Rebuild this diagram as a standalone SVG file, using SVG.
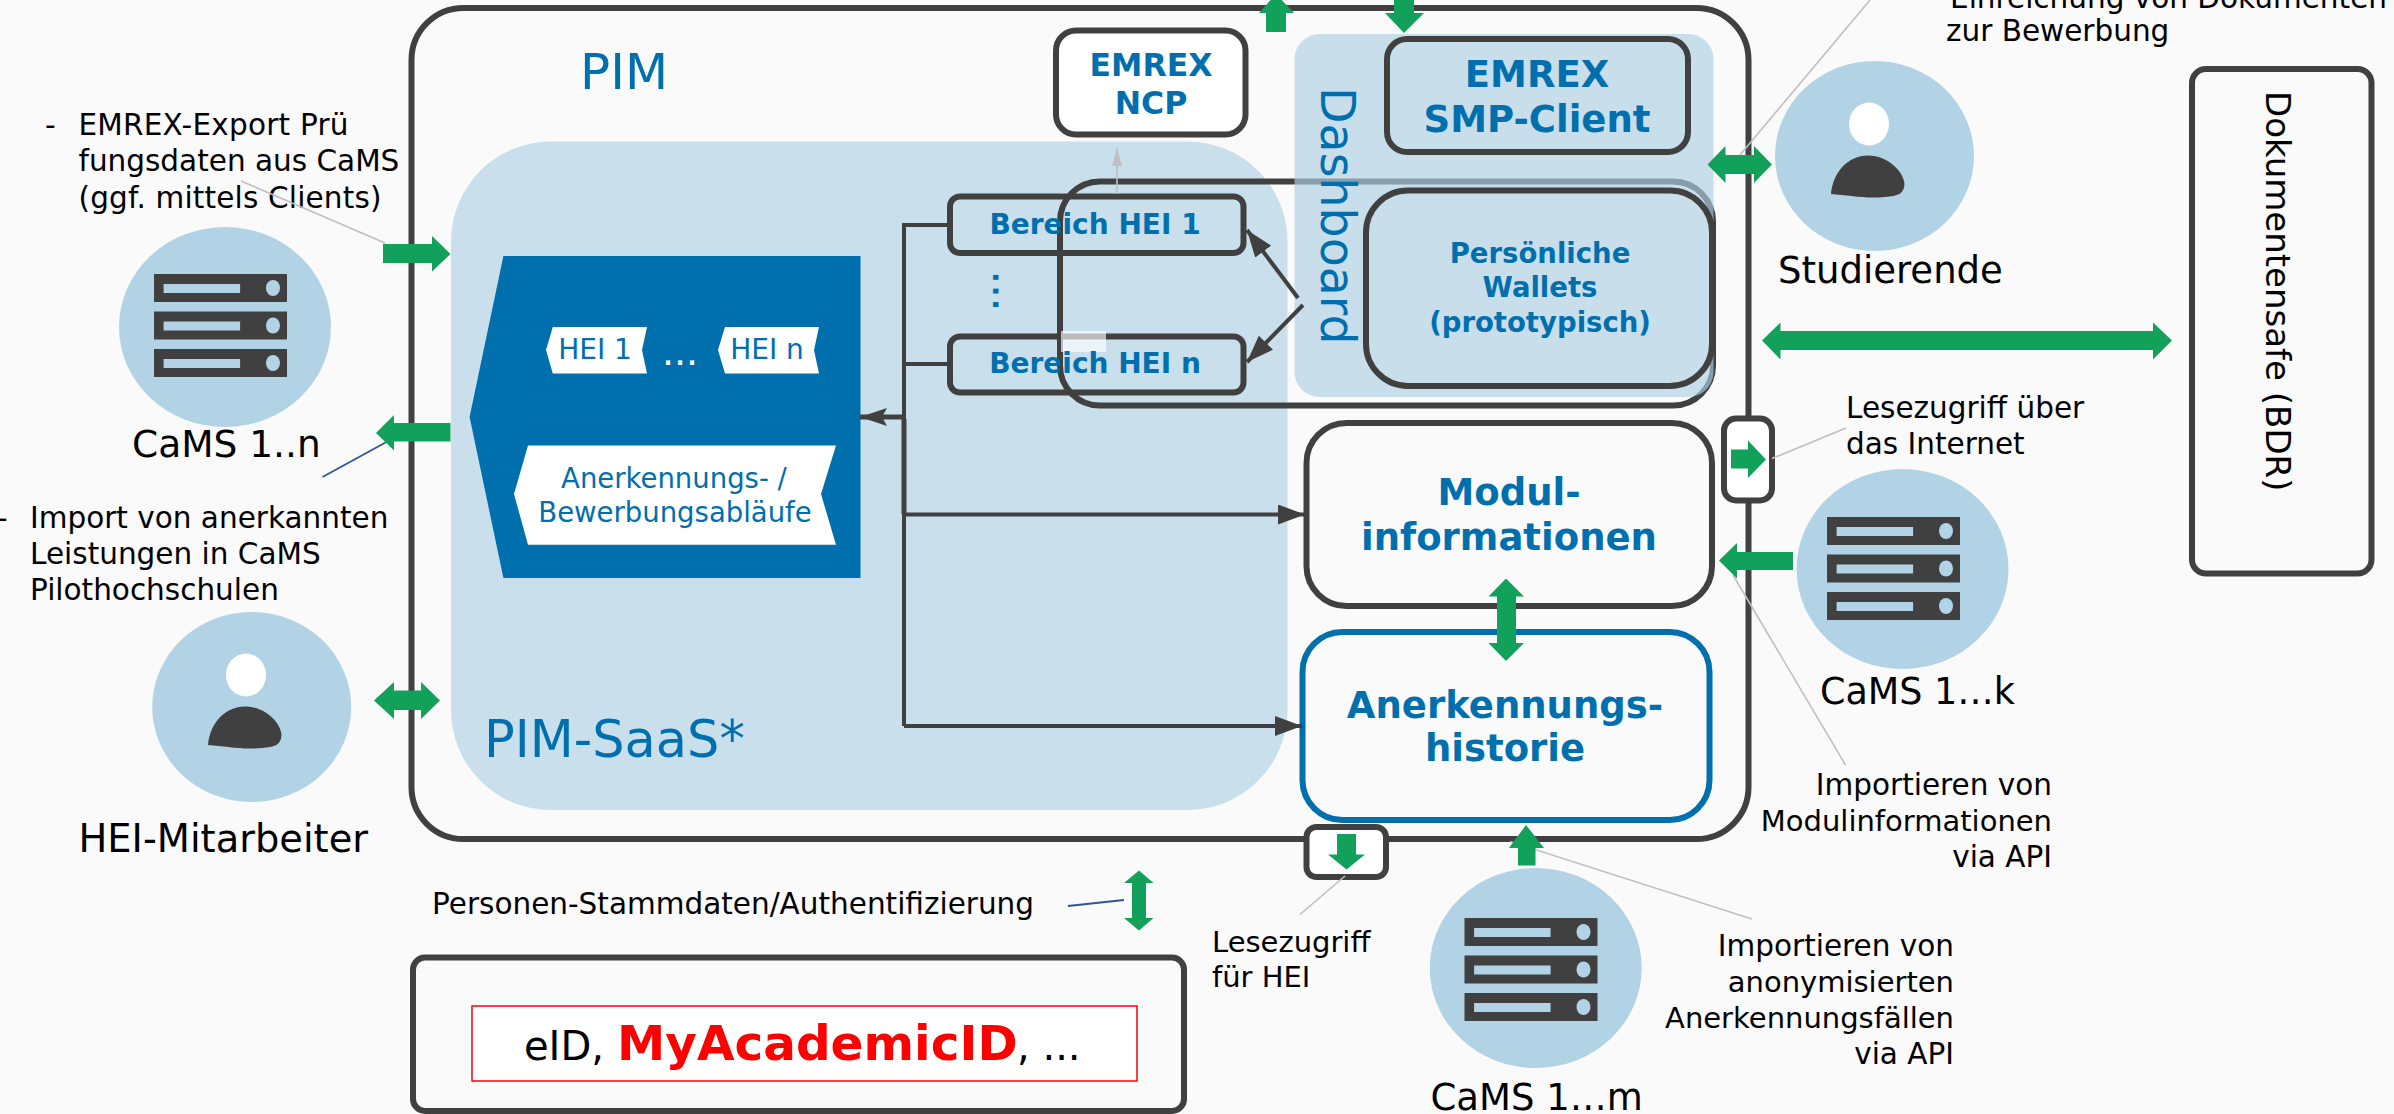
<svg xmlns="http://www.w3.org/2000/svg" xmlns:xlink="http://www.w3.org/1999/xlink" width="2394" height="1114" viewBox="0 0 2394 1114">
<style>
text{font-family:"DejaVu Sans","Liberation Sans",sans-serif;fill:#000}
.b{fill:#006fae}
.bb{fill:#006fae;font-weight:bold}
.m{text-anchor:middle}
.e{text-anchor:end}
.t29{font-size:29.500px}
.t28{font-size:29px}
.t37{font-size:37px}
.c37{font-size:37.500px}
.box{fill:none;stroke:#404040;stroke-width:6}
.wbox{fill:#fff;stroke:#404040;stroke-width:6}
.circ{fill:#b2d3e6}
.pale{fill:#c9dfec}
.g{fill:#12a15b}
.ln{fill:none;stroke:#404040;stroke-width:4}
.gr{fill:none;stroke:#bfbfbf;stroke-width:1.6}
.bl{fill:none;stroke:#2f5597;stroke-width:1.8}
</style>
<defs>
<marker id="ah" markerUnits="userSpaceOnUse" markerWidth="27" markerHeight="20" refX="27" refY="10" orient="auto"><path d="M0 0L27 10L0 20Z" fill="#404040"/></marker>
<marker id="as" markerUnits="userSpaceOnUse" markerWidth="27" markerHeight="20" refX="27" refY="10" orient="auto"><path d="M0 1L27 10L0 19L5 10Z" fill="#404040"/></marker>
<marker id="agr" markerUnits="userSpaceOnUse" markerWidth="18" markerHeight="10" refX="18" refY="5" orient="auto"><path d="M0 0L18 5L0 10Z" fill="#bfbfbf"/></marker>
<g id="srv"><rect width="133" height="28" fill="#404040"/><rect x="9.6" y="10" width="76.5" height="9" class="circ"/><ellipse cx="119" cy="14" rx="7" ry="8" class="circ"/></g>
<g id="server"><use xlink:href="#srv" href="#srv"/><use xlink:href="#srv" href="#srv" y="37.5"/><use xlink:href="#srv" href="#srv" y="75"/></g>
<g id="person"><ellipse cx="0" cy="0" rx="20" ry="21.5" fill="#fff"/><path d="M-38 70C-36 48-21 31.5-1 31.5C19 31.5 35 48 35.5 60C35 70 29 72 16 73C-4 75-21 71-38 70Z" fill="#404040"/></g>
</defs>
<rect width="2394" height="1114" fill="#fafafa"/>

<g id="pim"><rect x="411.5" y="8" width="1337" height="831" rx="52" class="box"/><text x="580" y="89" class="b" font-size="50">PIM</text></g>
<g id="pim-saas"><rect x="451" y="141.5" width="836.500" height="668.500" rx="100" class="pale"/><text x="484" y="757" class="b" font-size="51">PIM-SaaS*</text></g>
<g id="range-frame"><rect x="1060" y="181.500" width="653" height="224" rx="40" class="box"/></g>
<g id="dashboard"><rect x="1294.500" y="34" width="419" height="363" rx="25" fill="#aed0e3" fill-opacity=".65"/><text transform="translate(1321 87) rotate(90)" class="b" font-size="47.500">Dashboard</text></g>
<g id="emrex-ncp"><rect x="1056" y="30.500" width="189.500" height="104" rx="20" class="wbox"/><text x="1151" y="76" class="bb m" font-size="31.500">EMREX</text><text x="1151" y="114" class="bb m" font-size="31.500">NCP</text></g>
<g id="emrex-smp"><rect x="1387" y="39" width="301" height="113" rx="20" class="box"/><text x="1537" y="87" class="bb m" font-size="37">EMREX</text><text x="1537" y="132" class="bb m" font-size="37">SMP-Client</text></g>
<g id="wallets"><rect x="1366" y="190.500" width="346" height="195.500" rx="42" class="box"/><g class="bb m" font-size="27.500"><text x="1540" y="263" class="bb m">Persönliche</text><text x="1540" y="297" class="bb m">Wallets</text><text x="1540" y="332" class="bb m">(prototypisch)</text></g></g>
<g id="bereich-1"><rect x="950" y="196.500" width="293.500" height="56.500" rx="10" class="box"/><text x="1095" y="234" class="bb m" font-size="28">Bereich HEI 1</text></g>
<g id="bereich-n"><rect x="950" y="336.500" width="293.500" height="56" rx="10" class="box"/><rect x="1061" y="331" width="45" height="21" fill="#fff" fill-opacity=".65"/><text x="1095" y="373" class="bb m" font-size="28">Bereich HEI n</text></g>
<g id="bereich-dots"><text transform="translate(993 272) rotate(90)" class="bb" font-size="28" letter-spacing="3">...</text></g>

<g id="workflow">
<polygon points="503.400,256 860.500,256 860.500,578 503.400,578 469.600,417" fill="#006fae"/>
<polygon points="552.800,327 647,327 642,350 647,373.500 552.800,373.500 546,350" fill="#fff"/>
<text x="595" y="359" class="b m" font-size="28">HEI 1</text>
<text x="680" y="365" class="m" font-size="38" style="fill:#fff">...</text>
<polygon points="725,327 819,327 814,350 819,373.500 725,373.500 718,350" fill="#fff"/>
<text x="767" y="359" class="b m" font-size="28">HEI n</text>
<polygon points="528,445.500 836,445.500 821,494 836,544.700 528,544.700 514,494" fill="#fff"/>
<text x="674" y="488" class="b m" font-size="27.500">Anerkennungs- /</text>
<text x="675" y="522" class="b m" font-size="27.500">Bewerbungsabläufe</text>
</g>

<g id="modul"><rect x="1306.500" y="423" width="405.500" height="183" rx="40" class="box"/><text x="1509" y="505" class="bb m t37">Modul-</text><text x="1509" y="550" class="bb m t37">informationen</text></g>
<g id="historie"><rect x="1302.500" y="632" width="407" height="188" rx="40" fill="none" stroke="#006fae" stroke-width="6"/><text x="1505" y="718" class="bb m t37">Anerkennungs-</text><text x="1505" y="761" class="bb m t37">historie</text></g>
<g id="read-internet"><rect x="1724" y="418.500" width="48" height="82" rx="12" class="wbox"/></g>
<g id="read-hei"><rect x="1306.500" y="827" width="79.500" height="50" rx="10" class="wbox"/></g>

<g id="dokumentensafe"><rect x="2192" y="69" width="179.500" height="504.500" rx="14" class="box"/><text transform="translate(2266 91) rotate(90)" font-size="34">Dokumentensafe (BDR)</text></g>
<g id="identity"><rect x="413" y="957.500" width="771" height="153.500" rx="12" class="box"/><rect x="472" y="1006" width="665" height="75" fill="#fff" stroke="#f00" stroke-width="1.500"/><text y="1060" font-size="40"><tspan x="524">eID,</tspan><tspan x="617" font-size="48.500" font-weight="bold" style="fill:#f00">MyAcademicID</tspan><tspan x="1017">, ...</tspan></text></g>

<g id="cams-n"><ellipse cx="225" cy="327" rx="106" ry="100" class="circ"/><use xlink:href="#server" href="#server" x="154" y="274"/><text x="132" y="457" class="c37">CaMS 1..n</text></g>
<g id="cams-k"><ellipse cx="1902.500" cy="569" rx="106" ry="100" class="circ"/><use xlink:href="#server" href="#server" x="1827" y="517"/><text x="1820" y="703.500" style="font-size:36.500px">CaMS 1…k</text></g>
<g id="cams-m"><ellipse cx="1535.700" cy="968" rx="106" ry="100" class="circ"/><use xlink:href="#server" href="#server" x="1464.500" y="918"/><text x="1430.500" y="1110" class="t37">CaMS 1…m</text></g>
<g id="studierende"><ellipse cx="1874.500" cy="156" rx="99.500" ry="95" class="circ"/><use xlink:href="#person" href="#person" x="1869" y="124"/><text x="1778" y="283" font-size="37">Studierende</text></g>
<g id="hei-mitarbeiter"><ellipse cx="251.700" cy="707" rx="99.500" ry="95" class="circ"/><use xlink:href="#person" href="#person" x="246" y="675"/><text x="78.500" y="852" font-size="38.400">HEI-Mitarbeiter</text></g>

<g id="labels">
<text x="45" y="135" class="t29">-</text><text x="78.500" y="135" class="t29" textLength="270">EMREX-Export Prü</text><text x="78.500" y="171" class="t29">fungsdaten aus CaMS</text><text x="78.500" y="207.500" class="t29" textLength="303">(ggf. mittels Clients)</text>
<text x="-3" y="528" class="t29">-</text><text x="30" y="528" class="t29">Import von anerkannten</text><text x="30" y="564" class="t29">Leistungen in CaMS</text><text x="30" y="600" class="t29">Pilothochschulen</text>
<text x="1950" y="8" class="t29">Einreichung von Dokumenten</text><text x="1946" y="41" class="t29">zur Bewerbung</text>
<text x="1846" y="418" class="t29">Lesezugriff über</text><text x="1846" y="454" class="t29">das Internet</text>
<text x="2052" y="795" class="t29 e">Importieren von</text><text x="2052" y="831" class="t28 e">Modulinformationen</text><text x="2052" y="867" class="t29 e">via API</text>
<text x="1954" y="956" class="t29 e">Importieren von</text><text x="1954" y="992" class="t28 e">anonymisierten</text><text x="1954" y="1028" class="t28 e">Anerkennungsfällen</text><text x="1954" y="1064" class="t29 e">via API</text>
<text x="1212" y="952" class="t28">Lesezugriff</text><text x="1212" y="987" class="t28">für HEI</text>
<text x="432" y="914" class="t29">Personen-Stammdaten/Authentifizierung</text>
</g>

<g id="connectors">
<path class="ln" d="M950 225H904V419"/>
<path class="ln" d="M904 364H950"/>
<path class="ln" d="M904 514V726" />
<path class="ln" style="stroke-width:5" d="M904 419V514"/>
<path class="ln" style="stroke-width:5" d="M904 417H860" marker-end="url(#as)"/>
<path class="ln" d="M904 514.500H1305" marker-end="url(#ah)"/>
<path class="ln" d="M904 726H1302" marker-end="url(#ah)"/>
<path class="ln" d="M1298 298L1247 230" marker-end="url(#ah)"/>
<path class="ln" d="M1303 305L1247 362" marker-end="url(#ah)"/>
<path class="gr" d="M1117 194V148" marker-end="url(#agr)"/>
<path class="gr" d="M241 181L385 243"/>
<path class="gr" d="M1740 155L1870 0"/>
<path class="gr" d="M1772 458.500L1846 428"/>
<path class="gr" d="M1733 575L1845.500 765"/>
<path class="gr" d="M1345 876L1300 914.500"/>
<path class="gr" d="M1510 841.500L1752 919"/>
<path class="bl" d="M322.500 477L406.500 431"/>
<path class="bl" d="M1068 906L1124 900"/>
<polygon class="g" points="383,244 432,244 432,236 450.500,254 432,271.500 432,263 383,263"/>
<polygon class="g" points="450.500,423 394,423 394,415 376,433 394,450.500 394,441.500 450.500,441.500"/>
<polygon class="g" points="374,700.500 394,682 394,690.500 421,690.500 421,682 440,700.500 421,719 421,710 394,710 394,719"/>
<polygon class="g" points="1266,32 1266,13 1259,13 1276,-6 1294,13 1286,13 1286,32"/>
<polygon class="g" points="1394,-2 1414,-2 1414,13 1424,13 1404,33 1385,13 1394,13"/>
<polygon class="g" points="1707.500,164.500 1725.500,146 1725.500,155 1754,155 1754,146 1772,164.500 1754,183 1754,174 1725.500,174 1725.500,183"/>
<polygon class="g" points="1762,340.500 1780.500,322.500 1780.500,331 2153,331 2153,322.500 2172,340.500 2153,359.500 2153,350 1780.500,350 1780.500,359.500"/>
<polygon class="g" points="1731,449.500 1748,449.500 1748,440.500 1766,459.500 1748,478 1748,468.500 1731,468.500"/>
<polygon class="g" points="1793,552 1737,552 1737,543 1719,560.500 1737,578.500 1737,570 1793,570"/>
<polygon class="g" points="1506,578.500 1524,596.500 1516,596.500 1516,643 1524,643 1506,661 1488.500,643 1497,643 1497,596.500 1488.500,596.500"/>
<polygon class="g" points="1337,834 1356,834 1356,854.500 1365,854.500 1346.500,869.500 1328,854.500 1337,854.500"/>
<polygon class="g" points="1526,825 1544,848 1535.500,848 1535.500,865.500 1518,865.500 1518,848 1509,848"/>
<polygon class="g" points="1139,870.500 1153.500,883 1146,883 1146,918 1153.500,918 1139,930.500 1124,918 1132,918 1132,883 1124,883"/>
</g>
</svg>
